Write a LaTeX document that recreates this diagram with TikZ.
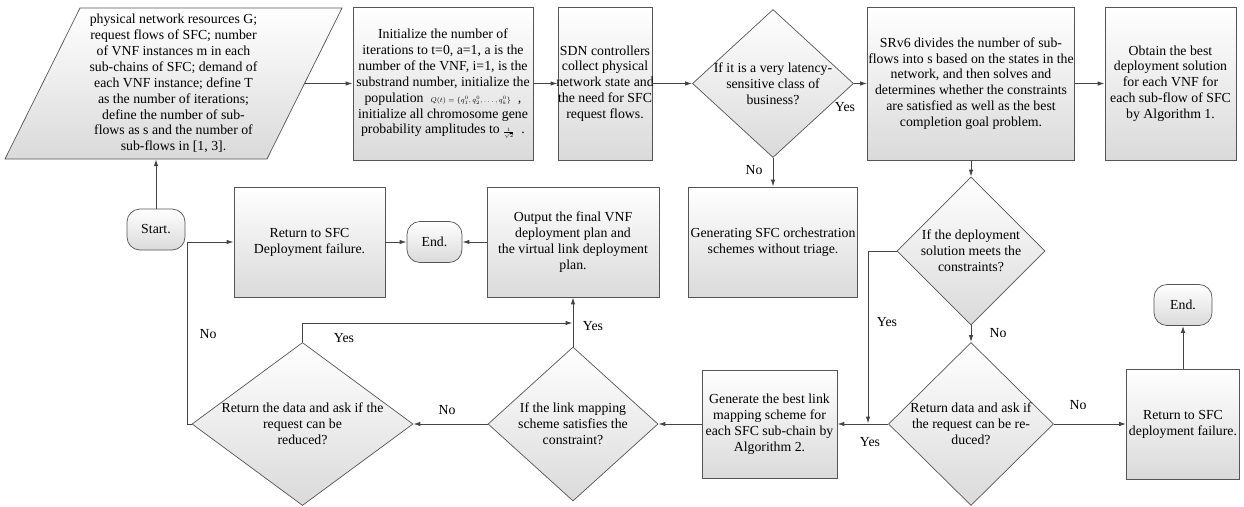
\documentclass[tikz,border=0pt]{standalone}
\usepackage{fontspec}
\setmainfont{Liberation Serif}
\newfontfamily\flowfont{Liberation Serif}
\usetikzlibrary{calc,shapes.geometric,arrows.meta}
\definecolor{BoxEdge}{RGB}{85,85,85}
\definecolor{BoxShade}{RGB}{218,218,218}
\definecolor{FlowGray}{RGB}{68,68,68}
\tikzset{
  boxfill/.style={top color=white, bottom color=BoxShade, draw=BoxEdge, line width=0.7pt},
  procbox/.style={boxfill, rectangle, align=center, inner sep=0pt},
  termbox/.style={boxfill, rectangle, rounded corners=13pt, minimum width=58pt, minimum height=41pt},
  decision/.style={boxfill, diamond, inner sep=0pt},
  dtext/.style={align=center, inner sep=0pt},
  flow/.style={draw=FlowGray, line width=1pt, -{Latex[length=7pt,width=4.5pt]}},
  tag/.style={inner sep=0pt},
}

\begin{document}
\begin{tikzpicture}[x=1pt, y=-1pt, font=\flowfont\fontsize{13.8}{15.9}\selectfont]
  \useasboundingbox (0,0) rectangle (1244,506);

  % --- (A) Top row: input data, initialisation, first decision ---
  \coordinate (inC) at (173.5,83.5);
  \def\slant{37.5}
  \path[boxfill] ($(inC)+(-131+\slant,-75.5)$) -- ($(inC)+(131+\slant,-75.5)$)
    -- ($(inC)+(131-\slant,75.5)$) -- ($(inC)+(-131-\slant,75.5)$) -- cycle;
  \node[dtext, minimum width=262pt, minimum height=151pt] (input) at (inC)
    {physical network resources G;\\ request flows of SFC; number\\ of VNF instances m in each\\
     sub-chains of SFC; demand of\\ each VNF instance; define T\\ as the number of iterations;\\
     define the number of sub-\\ flows as s and the number of\\ sub-flows in [1, 3].};

  \node[procbox, minimum width=180pt, minimum height=153pt] (init) at (443,83.5)
    {Initialize the number of\\ iterations to t=0, a=1, a is the\\ number of the VNF, i=1, is the\\
     substrand number, initialize the\\
     population\ \ {\fontsize{7}{8}\selectfont$Q(t)=\{q_1^0,q_2^0,\ldots,q_k^0\}$}\ \ ,\\
     initialize all chromosome gene\\
     probability amplitudes to\ {\fontsize{7}{8}\selectfont$\frac{1}{\sqrt{2}}$}\ \ .};
  \node[procbox, minimum width=94pt, minimum height=153pt] (sdn) at (605,83.5) {};
  \node[dtext] (sdn-txt) at (sdn)
    {SDN controllers\\ collect physical\\ network state and\\ the need for SFC\\ request flows.};

  \node[decision, minimum width=161pt, minimum height=148pt] (latency) at (773,83.5) {};
  \node[dtext] (latency-txt) at (latency) {If it is a very latency-\\ sensitive class of\\ business?};

  \node[procbox, minimum width=207pt, minimum height=153pt] (srv6) at (971,83.5) {};
  \node[dtext] (srv6-txt) at (srv6)
    {SRv6 divides the number of sub-\\ flows into s based on the states in the\\ network, and then solves and\\
     determines whether the constraints\\ are satisfied as well as the best\\ completion goal problem.};
  \node[procbox, minimum width=131pt, minimum height=153pt] (obtain) at (1170.5,83.5)
    {Obtain the best\\ deployment solution\\ for each VNF for\\ each sub-flow of SFC\\ by Algorithm 1.};

  % --- (B) Middle row ---
  \node[termbox] (start) at (156,229.5) {Start.};
  \node[procbox, minimum width=151pt, minimum height=110pt] (fail1) at (309.5,242)
    {Return to SFC\\ Deployment failure.};
  \node[termbox, minimum width=55pt] (end1) at (434.5,242) {End.};
  \node[procbox, minimum width=172pt, minimum height=110pt] (output) at (573,242)
    {Output the final VNF\\ deployment plan and\\ the virtual link deployment\\ plan.};
  \node[procbox, minimum width=169pt, minimum height=110pt] (gen) at (773,242)
    {Generating SFC orchestration\\ schemes without triage.};

  \node[decision, minimum width=148pt, minimum height=148pt] (meets) at (971,251) {};
  \node[dtext] (meets-txt) at (meets) {If the deployment\\ solution meets the\\ constraints?};
  \node[termbox] (end2) at (1183,305) {End.};

  % --- (C) Bottom row ---
  \node[decision, minimum width=221pt, minimum height=163pt] (reduce1) at (302.5,424) {};
  \node[dtext] (reduce1-txt) at (reduce1) {Return the data and ask if the\\ request can be\\ reduced?};
  \node[decision, minimum width=170pt, minimum height=154pt] (link) at (573,424) {};
  \node[dtext] (link-txt) at (link) {If the link mapping\\ scheme satisfies the\\ constraint?};
  \node[procbox, minimum width=135pt, minimum height=108pt] (gen2) at (769.5,424)
    {Generate the best link\\ mapping scheme for\\ each SFC sub-chain by\\ Algorithm 2.};
  \node[decision, minimum width=165pt, minimum height=163pt] (reduce2) at (971,424) {};
  \node[dtext] (reduce2-txt) at (reduce2) {Return data and ask if\\ the request can be re-\\ duced?};
  \node[procbox, minimum width=113pt, minimum height=110pt] (fail2) at (1183,424)
    {Return to SFC\\ deployment failure.};

  % --- (D) Connectors ---
  \draw[flow] (start) -- (start |- input.south);
  \draw[flow] (input.east) -- (init.west);
  \draw[flow] (init) -- (sdn);
  \draw[flow] (sdn) -- (latency);
  \draw[flow] (latency) -- (srv6);
  \draw[flow] (srv6) -- (obtain);
  \draw[flow] (latency) -- (gen);
  \draw[flow] (srv6) -- (meets);
  \draw[flow] (meets) -- (reduce2);

  % yes branch drops onto the line into the link step
  \coordinate (meets-drop) at (868,423.5);
  \draw[flow] (meets.west) -| (meets-drop);
  \draw[flow] (reduce2) -- (gen2);
  \draw[flow] (reduce2) -- (fail2);
  \draw[flow] (fail2) -- (end2);
  \draw[flow] (gen2) -- (link);
  \draw[flow] (link) -- (output);
  \draw[flow] (link) -- (reduce1);

  \coordinate (link-join) at (572.5,323);
  \draw[flow] (reduce1.north) |- (link-join);
  \draw[flow] (reduce1.west) -- ++(-4,0) |- (fail1.west);
  \draw[flow] (fail1) -- (end1);
  \draw[flow] (output) -- (end1);

  % branch labels
  \node[tag] (lat-yes) at (845,107) {Yes};
  \node[tag] (lat-no) at (754,170) {No};
  \node[tag] (meets-yes) at (887,322) {Yes};
  \node[tag] (meets-no) at (998,333) {No};
  \node[tag] (red2-yes) at (870,442) {Yes};
  \node[tag] (red2-no) at (1078,405) {No};
  \node[tag] (link-yes) at (593,326) {Yes};
  \node[tag] (link-no) at (447,410) {No};
  \node[tag] (red1-yes) at (344,338) {Yes};
  \node[tag] (red1-no) at (208,334) {No};
\end{tikzpicture}
\end{document}
